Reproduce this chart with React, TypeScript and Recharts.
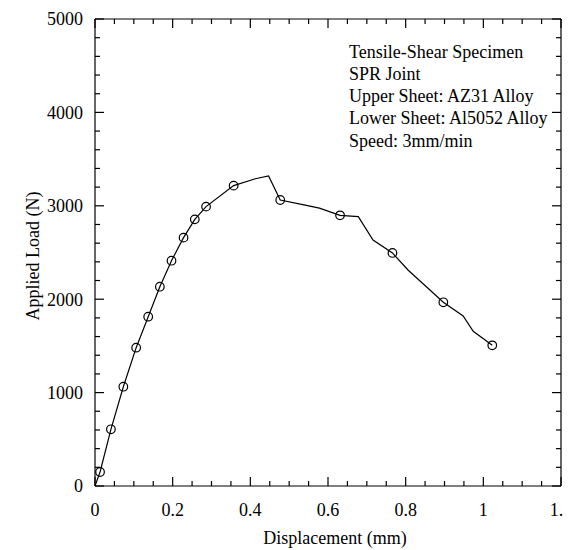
import React from "react";
import { LineChart, Line, XAxis, YAxis, ReferenceLine } from "recharts";

// values
const displacement = [
  0, 0.013, 0.041, 0.073, 0.106, 0.137, 0.167, 0.197, 0.228, 0.257, 0.286,
  0.357, 0.413, 0.447, 0.477, 0.538, 0.578, 0.631, 0.678, 0.716, 0.766, 0.806,
  0.897, 0.948, 0.974, 1.023,
];
const appliedLoad = [
  0, 150, 607, 1063, 1481, 1813, 2134, 2412, 2659, 2855, 2991, 3216, 3290,
  3319, 3062, 3009, 2975, 2898, 2884, 2634, 2495, 2313, 1967, 1820, 1656, 1506,
];
const hasMarker = [
  false, true, true, true, true, true, true, true, true, true, true, true,
  false, false, true, false, false, true, false, false, true, false, true,
  false, false, true,
];

const xTicks = [
  0, 0.05, 0.1, 0.15, 0.2, 0.25, 0.3, 0.35, 0.4, 0.45, 0.5, 0.55, 0.6, 0.65,
  0.7, 0.75, 0.8, 0.85, 0.9, 0.95, 1, 1.05, 1.1, 1.15, 1.2,
];
const yTicks = [
  0, 200, 400, 600, 800, 1000, 1200, 1400, 1600, 1800, 2000, 2200, 2400, 2600,
  2800, 3000, 3200, 3400, 3600, 3800, 4000, 4200, 4400, 4600, 4800, 5000,
];

const notes = [
  "Tensile-Shear Specimen",
  "SPR Joint",
  "Upper Sheet: AZ31 Alloy",
  "Lower Sheet: Al5052 Alloy",
  "Speed: 3mm/min",
];

const data = displacement.map((x, i) => ({ x, load: appliedLoad[i] }));

// chart sits inside the body's 8px margin
const W = 563;
const H = 542;
const M = { top: 11, right: 10, bottom: 0, left: 0 };
const PLOT_TOP = M.top;
const PLOT_RIGHT = W - M.right;

const FONT = "'Liberation Serif', 'Times New Roman', serif";
const FS = 18;
const MAJOR = 9;
const MINOR = 5;
const X_MARGIN = 17;
const Y_MARGIN = 12;

const isMajorX = (v: number) => Math.abs(v / 0.2 - Math.round(v / 0.2)) < 1e-6;
const isMajorY = (v: number) => v % 1000 === 0;
const fmt = (v: number) => String(Number(v.toFixed(2)));

function bottomTick(props: any) {
  const x = Number(props.x);
  const y = Number(props.y);
  const v = props.payload.value;
  const len = isMajorX(v) ? MAJOR : MINOR;
  const ay = y - X_MARGIN;
  return (
    <g>
      <path d={`M${x},${ay}V${ay - len}`} stroke="#000" strokeWidth={1.2} fill="none" />
      <path d={`M${x},${PLOT_TOP}V${PLOT_TOP + len}`} stroke="#000" strokeWidth={1.2} fill="none" />
      {isMajorX(v) && (
        <text x={x} y={y} dy="0.71em" textAnchor="middle" fontFamily={FONT} fontSize={FS} fill="#000">
          {fmt(v)}
        </text>
      )}
    </g>
  );
}

function leftTick(props: any) {
  const x = Number(props.x);
  const y = Number(props.y);
  const v = props.payload.value;
  const len = isMajorY(v) ? MAJOR : MINOR;
  const ax = x + Y_MARGIN;
  return (
    <g>
      <path d={`M${ax},${y}H${ax + len}`} stroke="#000" strokeWidth={1.2} fill="none" />
      <path d={`M${PLOT_RIGHT},${y}H${PLOT_RIGHT - len}`} stroke="#000" strokeWidth={1.2} fill="none" />
      {isMajorY(v) && (
        <text x={x} y={y} dy="0.355em" textAnchor="end" fontFamily={FONT} fontSize={FS} fill="#000">
          {v}
        </text>
      )}
    </g>
  );
}

function Marker(props: any) {
  const { cx, cy, index } = props;
  if (!hasMarker[index]) return <g key={`d${index}`} />;
  return <circle key={`d${index}`} cx={cx} cy={cy} r={4.3} fill="none" stroke="#000" strokeWidth={1.2} />;
}

function Texts() {
  return (
    <svg width={571} height={550} style={{ position: "absolute", left: 0, top: 0, pointerEvents: "none" }}>
      {notes.map((t, i) => (
        <text key={t} x={349} y={57.5 + i * 22.3} fontFamily={FONT} fontSize={FS} fill="#000">
          {t}
        </text>
      ))}
      <text x={335} y={544} textAnchor="middle" fontFamily={FONT} fontSize={FS} fill="#000">
        Displacement (mm)
      </text>
      <text x={39} y={256} textAnchor="middle" transform="rotate(-90 39 256)" fontFamily={FONT} fontSize={FS} fill="#000">
        Applied Load (N)
      </text>
    </svg>
  );
}

const axisLine = { stroke: "#000", strokeWidth: 1.2 };

export default function App() {
  return (
    <>
      <LineChart width={W} height={H} data={data} margin={M}>
        <XAxis
          dataKey="x"
          type="number"
          domain={[0, 1.2]}
          ticks={xTicks}
          interval={0}
          height={64}
          tickSize={0}
          tickMargin={X_MARGIN}
          tick={bottomTick}
          axisLine={axisLine}
          tickLine={false}
          allowDataOverflow
        />
        <YAxis
          type="number"
          domain={[0, 5000]}
          ticks={yTicks}
          interval={0}
          width={87}
          tickSize={0}
          tickMargin={Y_MARGIN}
          tick={leftTick}
          axisLine={axisLine}
          tickLine={false}
          allowDataOverflow
        />
        <ReferenceLine y={5000} stroke="#000" strokeWidth={1.2} />
        <ReferenceLine x={1.2} stroke="#000" strokeWidth={1.2} />
        <Line
          type="linear"
          dataKey="load"
          stroke="#000"
          strokeWidth={1.2}
          dot={<Marker />}
          activeDot={false}
          isAnimationActive={false}
        />
      </LineChart>
      <Texts />
    </>
  );
}
